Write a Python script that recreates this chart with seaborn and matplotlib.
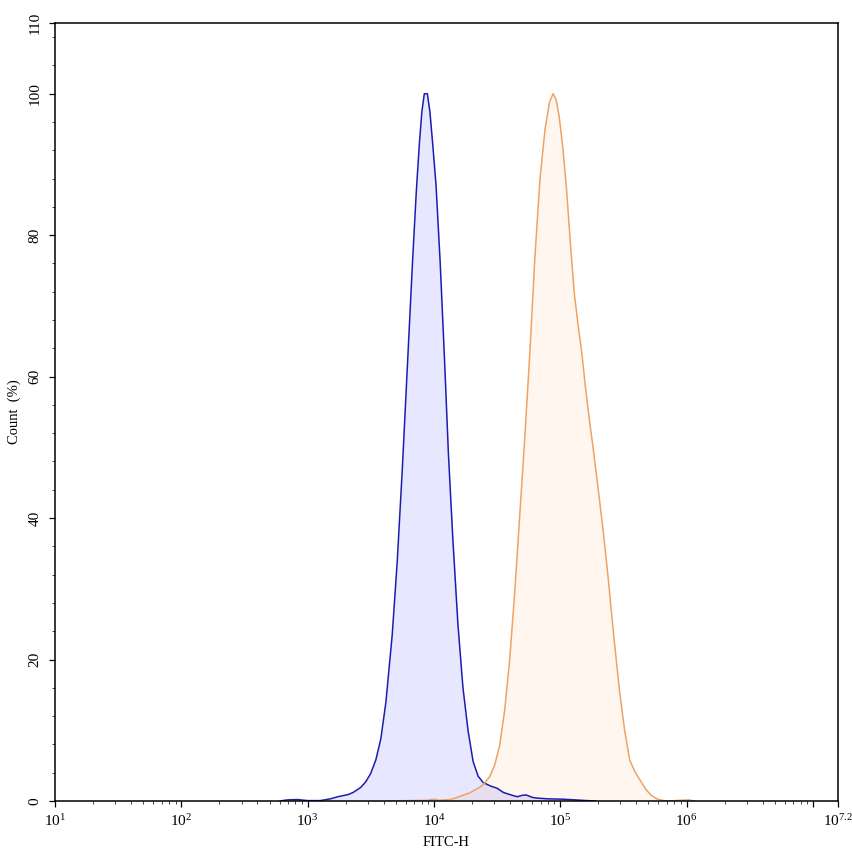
import numpy as np
import pandas as pd
import matplotlib
matplotlib.use("Agg")
import matplotlib.pyplot as plt
import matplotlib.ticker as mticker
import seaborn as sns

# --- DATA (log10 of FITC-H, count in %) ---
blue_exp = [2.78, 2.84, 2.92, 3.00, 3.10, 3.18, 3.24, 3.32, 3.36, 3.42, 3.46, 3.50,
            3.54, 3.58, 3.62, 3.67, 3.71, 3.75, 3.79, 3.83, 3.86, 3.885, 3.905, 3.924,
            3.948, 3.968, 3.99, 4.017, 4.05, 4.085, 4.115, 4.15, 4.19, 4.23, 4.27,
            4.31, 4.35, 4.39, 4.45, 4.50, 4.55, 4.62, 4.66, 4.70, 4.73, 4.78, 4.82,
            4.90, 5.02, 5.12, 5.21, 5.28]
blue_pct = [0.0, 0.15, 0.2, 0.05, 0.05, 0.3, 0.6, 0.9, 1.2, 1.9, 2.7, 3.9,
            5.8, 8.8, 14.0, 23.5, 34.0, 47.0, 61.5, 76.0, 86.0, 93.0, 97.5, 100.0,
            100.0, 97.5, 93.0, 87.0, 76.0, 62.0, 49.0, 37.0, 25.0, 16.0, 10.0,
            5.6, 3.5, 2.6, 2.1, 1.8, 1.2, 0.8, 0.6, 0.8, 0.85, 0.5, 0.4,
            0.3, 0.25, 0.15, 0.05, 0.0]

orange_exp = [3.63, 3.80, 3.95, 4.00, 4.04, 4.13, 4.20, 4.29, 4.35, 4.39, 4.44, 4.48,
              4.52, 4.56, 4.60, 4.64, 4.68, 4.72, 4.76, 4.80, 4.84, 4.88, 4.915, 4.943,
              4.967, 4.99, 5.02, 5.05, 5.08, 5.11, 5.14, 5.17, 5.20, 5.23, 5.26,
              5.30, 5.34, 5.38, 5.42, 5.47, 5.51, 5.55, 5.59, 5.63, 5.68, 5.72,
              5.77, 5.82, 5.87, 5.95, 6.02, 6.06]
orange_pct = [0.0, 0.05, 0.1, 0.25, 0.1, 0.2, 0.6, 1.2, 1.8, 2.3, 3.4, 5.0,
              7.8, 12.8, 20.0, 29.5, 40.5, 51.5, 63.5, 77.0, 88.0, 95.0, 98.8, 100.0,
              99.2, 97.0, 92.5, 86.5, 79.0, 72.0, 67.5, 63.5, 58.5, 54.0, 50.0,
              44.2, 38.2, 31.5, 24.0, 15.5, 10.0, 5.8, 4.2, 3.0, 1.6, 0.8,
              0.25, 0.05, 0.0, 0.1, 0.15, 0.0]

x_tick_exp = [1, 2, 3, 4, 5, 6, 7, 7.2]
x_tick_labels = ["1", "2", "3", "4", "5", "6", "", "7.2"]
y_ticks = [0, 20, 40, 60, 80, 100, 110]

# --- STYLE ---
sns.set_style("ticks")
plt.rcParams["font.family"] = ["Liberation Serif", "DejaVu Serif"]
plt.rcParams["mathtext.fontset"] = "custom"
plt.rcParams["mathtext.rm"] = "Liberation Serif"
plt.rcParams["mathtext.it"] = "Liberation Serif:italic"

line_colors = {"blue": "#1c1cb0", "orange": "#efa263"}
fill_colors = {"blue": ("#0000ff", 0.095), "orange": ("#ff9933", 0.08)}

df = pd.concat([
    pd.DataFrame({"FITC": np.power(10.0, blue_exp), "Count": blue_pct, "sample": "blue"}),
    pd.DataFrame({"FITC": np.power(10.0, orange_exp), "Count": orange_pct, "sample": "orange"}),
])

fig = plt.figure(figsize=(8.53, 8.56), dpi=100)
ax = fig.add_axes([0.0645, 0.0643, 0.918, 0.9088])

# fills first, then outlines
for name in ["orange", "blue"]:
    sub = df[df["sample"] == name]
    col, alpha = fill_colors[name]
    ax.fill_between(sub["FITC"], 0, sub["Count"], color=col, alpha=alpha, linewidth=0)

sns.lineplot(data=df, x="FITC", y="Count", hue="sample", palette=line_colors,
             estimator=None, sort=False, linewidth=1.1, legend=False, ax=ax)

ax.set_xscale("log")
ax.set_xlim(10, 10 ** 7.2)
ax.set_ylim(0, 110)

ax.set_xticks([10 ** e for e in x_tick_exp])
ax.set_xticklabels([r"$\mathregular{10^{%s}}$" % s if s else "" for s in x_tick_labels])
ax.xaxis.set_minor_locator(mticker.LogLocator(base=10, subs=np.arange(2, 10), numticks=100))
ax.xaxis.set_minor_formatter(mticker.NullFormatter())

ax.set_yticks(y_ticks)
ax.set_yticklabels([str(v) for v in y_ticks], rotation=90, va="center")
ax.yaxis.set_minor_locator(mticker.MultipleLocator(4))

ax.tick_params(axis="both", which="major", direction="out", length=4.5, width=0.9,
               labelsize=11, color="black", labelcolor="black", pad=4)
ax.tick_params(axis="both", which="minor", direction="out", length=2.2, width=0.7, color="#444444")
ax.tick_params(axis="y", which="major", pad=5)

for sp in ax.spines.values():
    sp.set_visible(True)
    sp.set_linewidth(1.1)
    sp.set_color("black")

ax.set_xlabel("FITC-H", fontsize=10.5, color="black")
ax.set_ylabel("Count  (%)", fontsize=10.5, color="black")
ax.xaxis.set_label_coords(0.5, -0.045)
ax.yaxis.set_label_coords(-0.043, 0.5)

fig.savefig("out.png", dpi=100)
